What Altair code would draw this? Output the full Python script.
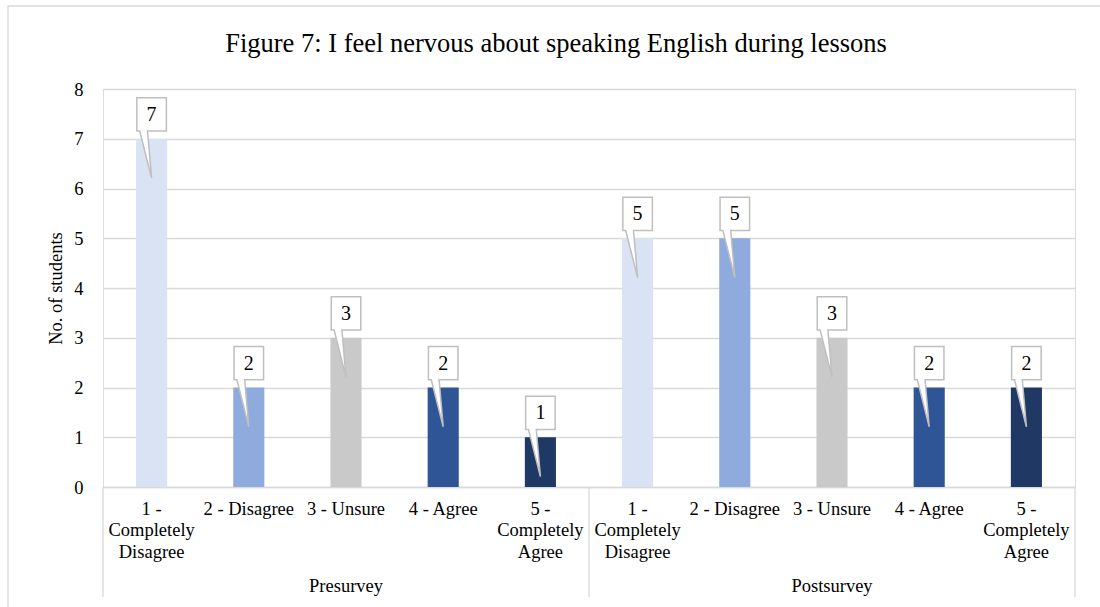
import altair as alt
import pandas as pd

# Survey responses: number of students choosing each option
surveys = ["Presurvey", "Postsurvey"]
categories = [
    "1 -\nCompletely\nDisagree",
    "2 - Disagree",
    "3 - Unsure",
    "4 - Agree",
    "5 -\nCompletely\nAgree",
]
pre_counts = [7, 2, 3, 2, 1]
post_counts = [5, 5, 3, 2, 2]
bar_colors = ["#dae3f3", "#8faadc", "#c9c9c9", "#2f5597", "#203864"]

title_text = "Figure 7: I feel nervous about speaking English during lessons"
y_title = "No. of students"

FONT = "Liberation Serif"
GRID = "#d9d9d9"

rows = []
for survey, counts in zip(surveys, [pre_counts, post_counts]):
    for cat, n in zip(categories, counts):
        rows.append({"survey": survey, "cat": cat, "key": f"{survey}|{cat}", "n": n})
df = pd.DataFrame(rows)
keys = list(df["key"])

W, H = 972, 398

x_scale = alt.Scale(domain=keys, paddingInner=0, paddingOuter=0)
y_scale = alt.Scale(domain=[0, 8])

x_axis = alt.Axis(
    title=None,
    labelExpr="split(split(datum.value, '|')[1], '\\n')",
    labelAngle=0,
    ticks=False,
    tickSize=0,
    domainColor=GRID,
    domainWidth=1.3,
    labelFont=FONT,
    labelFontSize=18.5,
    labelLineHeight=21.5,
    labelPadding=12,
    labelColor="#000000",
    labelLimit=300,
)
y_axis = alt.Axis(
    title=y_title,
    titleFont=FONT,
    titleFontSize=18.5,
    titleFontWeight="normal",
    titleColor="#000000",
    titlePadding=8,
    values=list(range(0, 9)),
    domain=False,
    ticks=False,
    tickSize=0,
    labelPadding=20,
    labelFont=FONT,
    labelFontSize=18.5,
    labelColor="#000000",
    gridColor=GRID,
    gridWidth=1.3,
)

X = alt.X("key:N", scale=x_scale, axis=x_axis)
Y = alt.Y("n:Q", scale=y_scale, axis=y_axis)

base = alt.Chart(df)

bars = base.mark_bar(width=alt.RelativeBandSize(0.32)).encode(
    x=X,
    y=Y,
    color=alt.Color("cat:N", scale=alt.Scale(domain=categories, range=bar_colors), legend=None),
)

# callout box with a pointer reaching down into the bar
callout_path = "M-0.36,-1 L0.36,-1 L0.36,-0.19 L-0.1,-0.19 L0,0.96 L-0.29,-0.19 L-0.36,-0.19 Z"
callouts = base.mark_point(
    shape=callout_path,
    size=6724,
    filled=True,
    fill="#ffffff",
    stroke="#bfbfbf",
    strokeWidth=1.5,
    opacity=1,
).encode(x=X, y=Y)

labels = base.mark_text(
    font=FONT, fontSize=20, color="#000000", baseline="middle", dy=-24
).encode(x=X, y=Y, text="n:Q")

# survey group labels under the category labels
group_df = pd.DataFrame({"survey": surveys, "key": [f"{s}|{categories[2]}" for s in surveys]})
group_labels = alt.Chart(group_df).mark_text(
    font=FONT, fontSize=18.5, color="#000000", baseline="middle"
).encode(
    x=X,
    y=alt.value(H + 99),
    text="survey:N",
)

# vertical separators of the two-level category axis
sep_left = alt.Chart(pd.DataFrame({"key": [f"{s}|{categories[0]}" for s in surveys]})).mark_rule(
    color=GRID, strokeWidth=1.3
).encode(
    x=alt.X("key:N", scale=x_scale, axis=x_axis, bandPosition=0),
    y=alt.value(H),
    y2=alt.value(H + 110),
)
sep_right = alt.Chart(pd.DataFrame({"key": [f"{surveys[-1]}|{categories[-1]}"]})).mark_rule(
    color=GRID, strokeWidth=1.3
).encode(
    x=alt.X("key:N", scale=x_scale, axis=x_axis, bandPosition=1),
    y=alt.value(H),
    y2=alt.value(H + 110),
)

# outer chart border
frame = alt.Chart(alt.Data(values=[{}])).mark_rect(
    fillOpacity=0, stroke=GRID, strokeWidth=1.3
).encode(
    x=alt.value(-95), x2=alt.value(1020), y=alt.value(-83), y2=alt.value(540)
)

chart = alt.layer(bars, frame, sep_left, sep_right, callouts, labels, group_labels).properties(
    width=W,
    height=H,
    autosize=alt.AutoSizeParams(type="none"),
    padding={"left": 103, "top": 89, "right": 25, "bottom": 120},
    title=alt.TitleParams(
        title_text,
        font=FONT,
        fontSize=26.5,
        fontWeight="normal",
        color="#000000",
        anchor="middle",
        frame="group",
        dx=-33,
        offset=-52,
    ),
).configure_view(strokeWidth=0).configure(background="#ffffff")

chart.save("out.html", embed_options={"renderer": "svg", "actions": False})
